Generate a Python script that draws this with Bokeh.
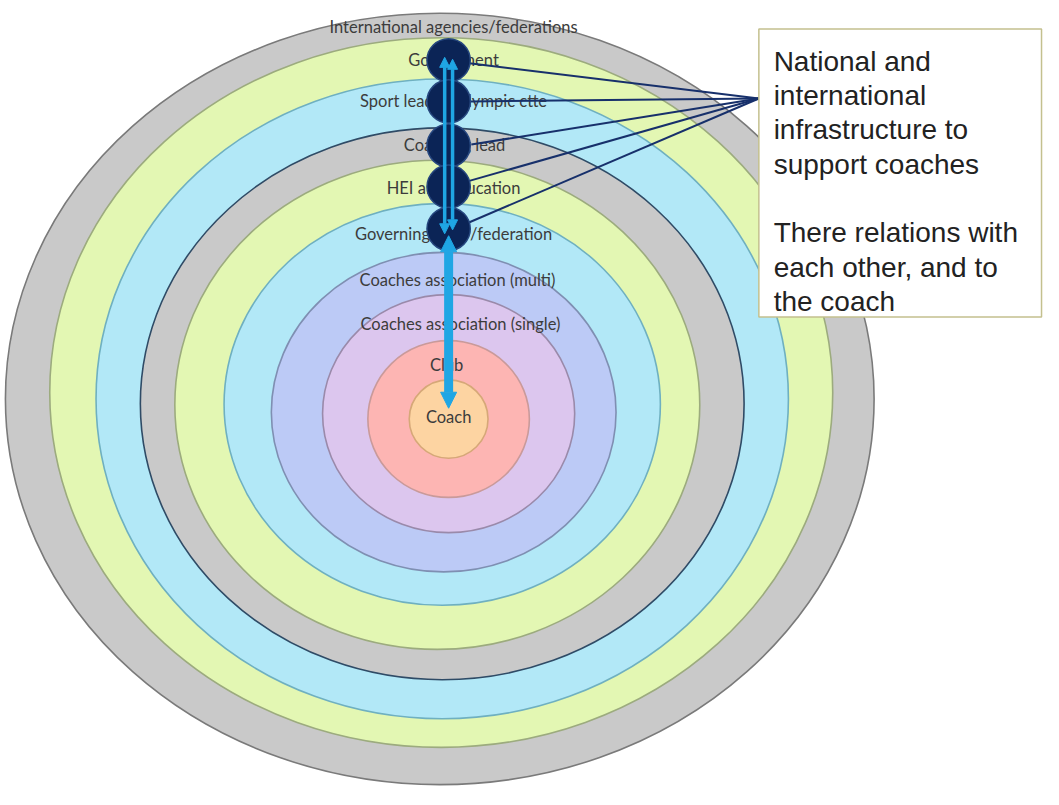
from bokeh.plotting import figure
from bokeh.models import Range1d, Arrow, NormalHead, ColumnDataSource
from bokeh.core.properties import value
from bokeh.embed import file_html
from bokeh.resources import INLINE

# ---- data: rings from outermost to innermost ----
ring_labels = [
    "International agencies/federations",
    "Government",
    "Sport leader/Olympic ctte",
    "Coaching lead",
    "HEI and education",
    "Governing body/federation",
    "Coaches association (multi)",
    "Coaches association (single)",
    "Club",
    "Coach",
]
ring_left = [5, 50, 97, 142, 177, 227, 275, 327, 373, 415]
ring_right = [887, 845, 800, 755, 710, 670, 625, 583, 537, 495]
ring_top = [13, 38, 80, 130, 163, 207, 257, 300, 347, 387]
ring_bottom = [800, 762, 733, 693, 662, 617, 583, 543, 507, 467]
ring_fill = ["#c9c9c9", "#e3f7b3", "#b2e8f7", "#c9c9c9", "#e3f7b3", "#b2e8f7",
             "#bccaf6", "#dcc6ee", "#fdb5b3", "#fdd4a2"]
ring_line = ["#7a7a7a", "#9cab7e", "#6fb0c0", "#2f4b66", "#9cab7e", "#6fb0c0",
             "#7f8fb2", "#9a8aaa", "#c99a9a", "#d6a878"]

label_x = [460, 460, 460, 461, 460, 460, 464, 467, 453, 455]
label_y = [27, 61, 103, 147, 191, 238, 285, 330, 372, 425]

# dark nodes on the vertical axis (one per national/international body)
node_x = [455, 455, 455, 455, 455]
node_y = [61, 103, 148, 190, 233]
node_r = 22

# connectors from nodes to the callout box
conn_x0 = [476, 477, 478, 476, 472]
conn_y0 = [64, 103, 147, 184, 228]
conn_x1 = [770, 770, 770, 770, 770]
conn_y1 = [100, 100, 100, 100, 100]

# light-blue arrows (x_start, y_start, x_end, y_end, width)
arr_x0 = [451, 459, 455]
arr_y0 = [238, 234, 240]
arr_x1 = [451, 459, 455]
arr_y1 = [58, 60, 416]
arr_w = [3.5, 3.5, 9]

# callout box
box_left, box_right, box_top, box_bottom = 770, 1057, 29, 323
box_lines = ["National and", "international", "infrastructure to", "support coaches",
             "There relations with", "each other, and to", "the coach"]
box_line_y = [62, 97, 132, 167, 237, 272, 307]
box_text_x = 785

p = figure(width=1043, height=789, output_backend="svg", toolbar_location=None,
           x_range=Range1d(0, 1059), y_range=Range1d(805, 0), min_border=0)
p.axis.visible = False
p.grid.visible = False
p.outline_line_color = None
p.background_fill_color = "white"

cx = [(l + r) / 2 for l, r in zip(ring_left, ring_right)]
cy = [(t + b) / 2 for t, b in zip(ring_top, ring_bottom)]
w = [r - l for l, r in zip(ring_left, ring_right)]
h = [b - t for t, b in zip(ring_top, ring_bottom)]
src = ColumnDataSource(dict(x=cx, y=cy, w=w, h=h, fill=ring_fill, line=ring_line))
p.ellipse(x="x", y="y", width="w", height="h", fill_color="fill", line_color="line",
          line_width=1.6, source=src)

p.text(x=label_x, y=label_y, text=ring_labels, text_font=value("Lato"),
       text_font_size="16.5px", text_color="#3c3c3c", text_align="center",
       text_baseline="middle")

# connectors
p.segment(x0=conn_x0, y0=conn_y0, x1=conn_x1, y1=conn_y1, line_color="#17306b",
          line_width=2)

# nodes
p.circle(x=node_x, y=node_y, radius=node_r, fill_color="#0b2456",
         line_color="#26477f", line_width=1.5)

blue = "#1fa6e4"
for i in range(len(arr_x0)):
    size = 10 if arr_w[i] < 5 else 16
    p.add_layout(Arrow(
        x_start=arr_x0[i], y_start=arr_y0[i], x_end=arr_x1[i], y_end=arr_y1[i],
        line_color=blue, line_width=arr_w[i],
        end=NormalHead(size=size, fill_color=blue, line_color=blue),
        start=NormalHead(size=size, fill_color=blue, line_color=blue)))

# callout box
p.quad(left=[box_left], right=[box_right], top=[box_top], bottom=[box_bottom],
       fill_color="white", line_color="#c4c08e", line_width=1.5)
p.text(x=[box_text_x] * len(box_lines), y=box_line_y, text=box_lines,
       text_font=value("Liberation Sans"), text_font_size="28px",
       text_color="#222222", text_align="left", text_baseline="alphabetic")

open("out.html", "w").write(file_html(p, INLINE))
